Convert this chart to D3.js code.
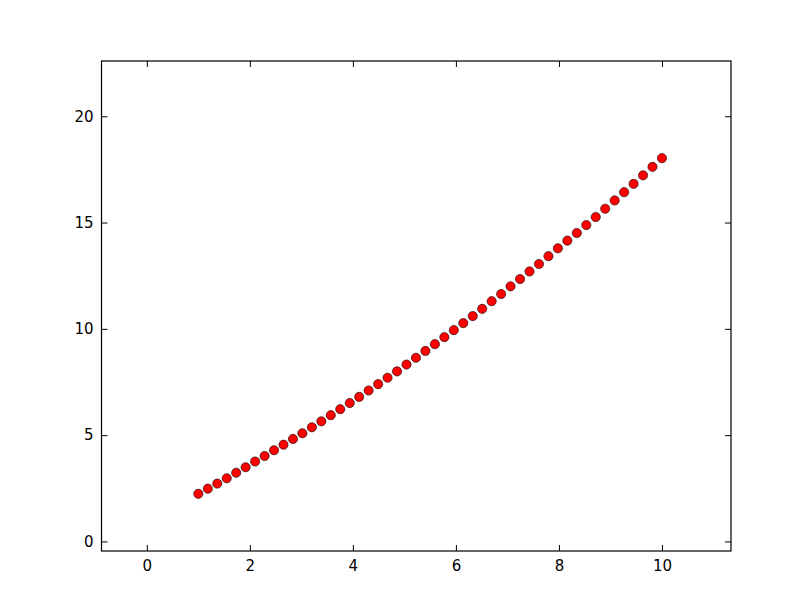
<!DOCTYPE html>
<html>
<head>
<meta charset="utf-8">
<script src="https://cdn.jsdelivr.net/npm/d3@7"></script>
<style>
  html, body { margin: 0; padding: 0; background: #ffffff; }
  svg { display: block; }
  .tick text { font-family: "DejaVu Sans", sans-serif; }
</style>
</head>
<body>
<svg id="chart" width="812" height="612"></svg>
<script>
const xValues = [1.000, 1.184, 1.367, 1.551, 1.735, 1.918, 2.102, 2.286, 2.469, 2.653,
  2.837, 3.020, 3.204, 3.388, 3.571, 3.755, 3.939, 4.122, 4.306, 4.490,
  4.673, 4.857, 5.041, 5.224, 5.408, 5.592, 5.776, 5.959, 6.143, 6.327,
  6.510, 6.694, 6.878, 7.061, 7.245, 7.429, 7.612, 7.796, 7.980, 8.163,
  8.347, 8.531, 8.714, 8.898, 9.082, 9.265, 9.449, 9.633, 9.816, 10.000];
const yValues = [2.24, 2.48, 2.72, 2.97, 3.23, 3.49, 3.76, 4.02, 4.29, 4.55,
  4.82, 5.09, 5.37, 5.65, 5.94, 6.22, 6.51, 6.80, 7.10, 7.40,
  7.70, 8.00, 8.32, 8.64, 8.96, 9.28, 9.61, 9.94, 10.27, 10.60,
  10.94, 11.30, 11.64, 12.00, 12.34, 12.70, 13.05, 13.42, 13.79, 14.15,
  14.51, 14.88, 15.26, 15.65, 16.04, 16.43, 16.82, 17.22, 17.62, 18.03];
const xTicks = [0, 2, 4, 6, 8, 10];
const yTicks = [0, 5, 10, 15, 20];
const xDomain = [-0.88, 11.34];
const yDomain = [-0.45, 22.6];

(function () {
const W = 812, H = 612;
const pLeft = 101.5, pRight = 731, pTop = 61, pBottom = 551;
const svg = d3.select("#chart");

const x = d3.scaleLinear().domain(xDomain).range([pLeft, pRight]);
const y = d3.scaleLinear().domain(yDomain).range([pBottom, pTop]);

svg.append("rect").attr("x", 0).attr("y", 0).attr("width", W).attr("height", H).attr("fill", "#ffffff");

const tickLen = 6;
function styleAxis(g) {
  g.select(".domain").remove();
  g.selectAll(".tick line").attr("stroke", "#000").attr("stroke-width", 1);
  g.selectAll(".tick text").attr("fill", "#000").attr("font-size", "15px");
}

svg.append("g").attr("transform", `translate(0,${pBottom})`)
  .call(d3.axisBottom(x).tickValues(xTicks).tickFormat(d3.format("d")).tickSizeInner(-tickLen).tickSizeOuter(0).tickPadding(9))
  .call(styleAxis);
svg.append("g").attr("transform", `translate(0,${pTop})`)
  .call(d3.axisTop(x).tickValues(xTicks).tickFormat("").tickSizeInner(-tickLen).tickSizeOuter(0))
  .call(styleAxis);
svg.append("g").attr("transform", `translate(${pLeft},0)`)
  .call(d3.axisLeft(y).tickValues(yTicks).tickFormat(d3.format("d")).tickSizeInner(-tickLen).tickSizeOuter(0).tickPadding(8))
  .call(styleAxis);
svg.append("g").attr("transform", `translate(${pRight},0)`)
  .call(d3.axisRight(y).tickValues(yTicks).tickFormat("").tickSizeInner(-tickLen).tickSizeOuter(0))
  .call(styleAxis);

svg.append("rect")
  .attr("x", pLeft).attr("y", pTop)
  .attr("width", pRight - pLeft).attr("height", pBottom - pTop)
  .attr("fill", "none").attr("stroke", "#000").attr("stroke-width", 1.2);

const data = xValues.map((v, i) => ({ x: v, y: yValues[i] }));
svg.append("g").selectAll("circle").data(data).join("circle")
  .attr("cx", d => x(d.x)).attr("cy", d => y(d.y))
  .attr("r", 4.6)
  .attr("fill", "#ff0000").attr("stroke", "#000").attr("stroke-width", 0.6);
})();
</script>
</body>
</html>
